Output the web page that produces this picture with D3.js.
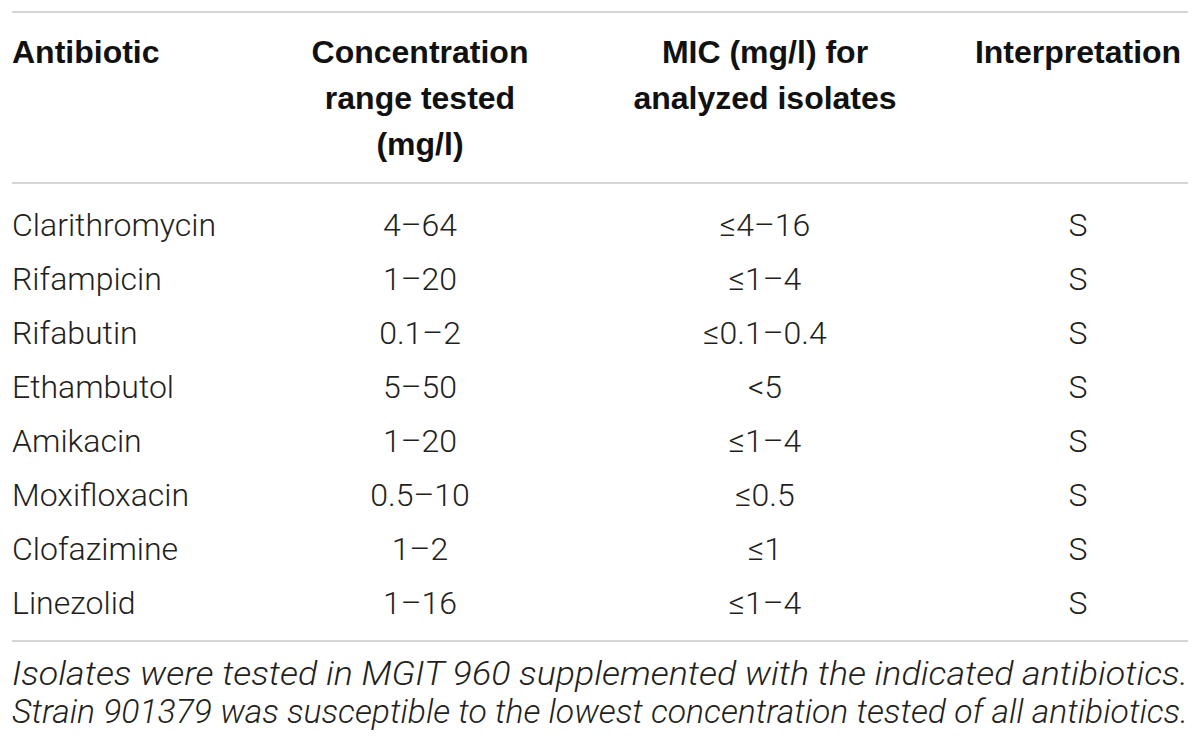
<!DOCTYPE html>
<html>
<head>
<meta charset="utf-8">
<script src="https://cdn.jsdelivr.net/npm/d3@7"></script>
<style>
  body { margin: 0; background: #fff; }
  svg text { font-family: Roboto, "Liberation Sans", Arial, sans-serif; fill: #231f20; }
  svg text.cab { font-family: "Liberation Sans", Arial, sans-serif; }
</style>
</head>
<body>
<div id="tabla"></div>
<script>
// Datos de la tabla
const encabezados = [
  ["Antibiotic"],
  ["Concentration", "range tested", "(mg/l)"],
  ["MIC (mg/l) for", "analyzed isolates"],
  ["Interpretation"]
];
const antibioticos = ["Clarithromycin", "Rifampicin", "Rifabutin", "Ethambutol", "Amikacin", "Moxifloxacin", "Clofazimine", "Linezolid"];
const rangos = ["4–64", "1–20", "0.1–2", "5–50", "1–20", "0.5–10", "1–2", "1–16"];
const mics = ["≤4–16", "≤1–4", "≤0.1–0.4", "<5", "≤1–4", "≤0.5", "≤1", "≤1–4"];
const interpretacion = ["S", "S", "S", "S", "S", "S", "S", "S"];
const notas = [
  "Isolates were tested in MGIT 960 supplemented with the indicated antibiotics.",
  "Strain 901379 was susceptible to the lowest concentration tested of all antibiotics."
];

const width = 1200;
const height = 747;
const left = 12;
const right = 1188;

const svg = d3.select("#tabla")
  .append("svg")
  .attr("width", width)
  .attr("height", height);

// columnas: la primera alineada a la izquierda, el resto centradas
const colX = d3.scaleOrdinal()
  .domain([0, 1, 2, 3])
  .range([left, 420, 765, 1078]);
const anchor = i => i === 0 ? "start" : "middle";

// filas
const yRow = d3.scaleBand()
  .domain(antibioticos)
  .range([197, 629]);

// lineas horizontales
const lineas = [12, 183, 641];
svg.selectAll("line.regla")
  .data(lineas)
  .enter()
  .append("line")
  .attr("class", "regla")
  .attr("x1", left)
  .attr("x2", right)
  .attr("y1", d => d)
  .attr("y2", d => d)
  .attr("stroke", "#c8c8c8")
  .attr("stroke-width", 1.5);

// encabezado
const headY = d3.scaleLinear().domain([0, 1]).range([63, 109]);
encabezados.forEach((lineasTxt, i) => {
  svg.append("text")
    .attr("class", "cab")
    .attr("x", colX(i))
    .attr("text-anchor", anchor(i))
    .style("font-size", "32px")
    .style("font-weight", "bold")
    .style("fill", "#111")
    .selectAll("tspan")
    .data(lineasTxt)
    .enter()
    .append("tspan")
    .attr("x", colX(i))
    .attr("y", (d, j) => headY(j))
    .text(d => d);
});

// cuerpo
const columnas = [antibioticos, rangos, mics, interpretacion];
columnas.forEach((col, i) => {
  svg.selectAll(`text.c${i}`)
    .data(col)
    .enter()
    .append("text")
    .attr("class", `c${i}`)
    .attr("x", colX(i))
    .attr("y", (d, k) => yRow(antibioticos[k]) + yRow.bandwidth() / 2 + 12)
    .attr("text-anchor", anchor(i))
    .style("font-size", "32px")
    .style("font-weight", 300)
    .text(d => d);
});

// notas al pie, justificadas
svg.selectAll("text.nota")
  .data(notas)
  .enter()
  .append("text")
  .attr("class", "nota")
  .attr("x", left)
  .attr("y", (d, i) => 685 + i * 38)
  .attr("textLength", right - left)
  .attr("lengthAdjust", "spacingAndGlyphs")
  .style("font-size", "33px")
  .style("font-weight", 300)
  .style("font-style", "italic")
  .text(d => d);
</script>
</body>
</html>
